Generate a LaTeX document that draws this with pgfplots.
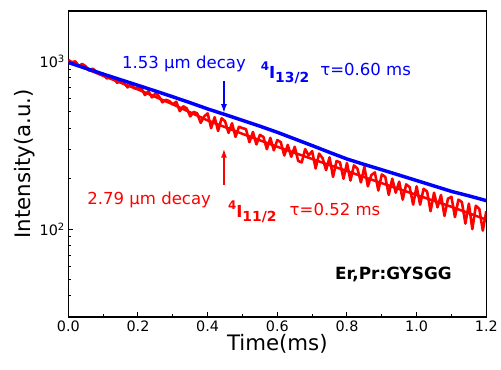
\documentclass[border=0pt]{standalone}
\usepackage{pgfplots}
\pgfplotsset{compat=1.18}
\usetikzlibrary{arrows.meta}
\usepackage{fontspec}
\setmainfont{DejaVu Sans}
\definecolor{myblue}{RGB}{0,0,255}
\definecolor{myred}{RGB}{255,0,0}
\begin{document}
\begin{tikzpicture}
\begin{axis}[
  width=422pt, height=309pt, scale only axis,
  xmin=0, xmax=1.2, ymin=30, ymax=2000, ymode=log,
  xtick={0,0.2,...,1.2}, minor x tick num=1,
  ytick={100,1000}, yticklabels={10\textsuperscript{2},10\textsuperscript{3}},
  minor ytick={40,50,60,70,80,90,200,300,400,500,600,700,800,900},
  xticklabel style={/pgf/number format/.cd, fixed, fixed zerofill, precision=1},
  /pgf/number format/assume math mode=true,
  tick align=inside, xtick pos=bottom, ytick pos=left,
  major tick length=5pt, minor tick length=3pt,
  axis line style={line width=1.5pt}, every tick/.style={line width=1pt, black},
  tick label style={font=\fontsize{14.5}{16}\selectfont},
  xlabel={Time(ms)}, ylabel={Intensity(a.u.)},
  label style={font=\fontsize{21.5}{24}\selectfont},
  xlabel style={yshift=4pt}, ylabel style={yshift=-2pt},
  clip=true,
]
\addplot[myred, line width=2.5pt] coordinates {
(0,1000)(0.1,820)(0.2,680)(0.3,555)(0.4,445)(0.5,370)(0.6,310)(0.7,262)(0.8,222)(0.9,188)(1.0,160)(1.1,136)(1.2,114)
};
\addplot[myred, line width=2.6pt, line join=round] coordinates {
(0.00,1020)(0.01,990)(0.02,1000)(0.03,940)(0.04,965)(0.05,935)(0.06,880)(0.07,905)(0.08,870)(0.09,850)
(0.10,845)(0.11,790)(0.12,815)(0.13,800)(0.14,745)(0.15,770)(0.16,745)(0.17,700)(0.18,735)(0.19,690)
(0.20,700)(0.21,690)(0.22,630)(0.23,665)(0.24,610)(0.25,645)(0.26,620)(0.27,570)(0.28,590)(0.29,580)
(0.30,555)(0.31,575)(0.32,505)(0.33,540)(0.34,525)(0.35,470)(0.36,500)(0.37,490)(0.38,430)(0.39,470)
(0.40,490)(0.41,400)(0.42,465)(0.43,385)(0.44,458)(0.45,440)(0.46,375)(0.47,428)(0.48,355)(0.49,408)
(0.50,400)(0.51,395)(0.52,330)(0.53,380)(0.54,320)(0.55,365)(0.56,355)(0.57,300)(0.58,350)(0.59,295)
(0.60,340)(0.61,330)(0.62,275)(0.63,318)(0.64,270)(0.65,310)(0.66,255)(0.67,250)(0.68,300)(0.69,275)
(0.70,292)(0.71,230)(0.72,282)(0.73,265)(0.74,225)(0.75,268)(0.76,205)(0.77,255)(0.78,250)(0.79,200)
(0.80,248)(0.81,195)(0.82,240)(0.83,230)(0.84,190)(0.85,235)(0.86,180)(0.87,210)(0.88,218)(0.89,170)
(0.90,212)(0.91,205)(0.92,160)(0.93,200)(0.94,165)(0.95,192)(0.96,150)(0.97,185)(0.98,178)(0.99,140)
(1.00,180)(1.01,140)(1.02,174)(1.03,168)(1.04,128)(1.05,165)(1.06,135)(1.07,160)(1.08,120)(1.09,152)
(1.10,156)(1.11,118)(1.12,150)(1.13,145)(1.14,108)(1.15,142)(1.16,100)(1.17,138)(1.18,132)(1.19,98)
(1.20,128)
};
\addplot[myblue, line width=3.5pt] coordinates {
(0,985)(0.05,910)(0.1,840)(0.15,778)(0.2,720)(0.25,666)(0.3,615)(0.35,567)(0.4,521)(0.45,482)
(0.5,445)(0.55,411)(0.6,378)(0.65,345)(0.7,315)(0.75,287)(0.8,262)(0.85,243)(0.9,226)(0.95,210)
(1.0,195)(1.05,181)(1.1,168)(1.15,158)(1.2,148)
};
% annotations
\node[anchor=base west, inner sep=0, text=myblue, font=\fontsize{16.7}{18}\selectfont] at (axis cs:0.154,906) {1.53 μm decay};
\node[anchor=base west, inner sep=0, text=myblue, font=\bfseries\fontsize{16.7}{18}\selectfont] at (axis cs:0.552,791) {\raisebox{8pt}{\fontsize{12}{12}\selectfont 4}I\raisebox{-4pt}{\fontsize{14}{14}\selectfont 13/2}};
\node[anchor=base west, inner sep=0, text=myblue, font=\fontsize{16.7}{18}\selectfont] at (axis cs:0.723,824) {τ=0.60 ms};
\node[anchor=base west, inner sep=0, text=myred, font=\fontsize{16.7}{18}\selectfont] at (axis cs:0.054,141) {2.79 μm decay};
\node[anchor=base west, inner sep=0, text=myred, font=\bfseries\fontsize{16.7}{18}\selectfont] at (axis cs:0.458,118) {\raisebox{8pt}{\fontsize{12}{12}\selectfont 4}I\raisebox{-4pt}{\fontsize{14}{14}\selectfont 11/2}};
\node[anchor=base west, inner sep=0, text=myred, font=\fontsize{16.7}{18}\selectfont] at (axis cs:0.635,120) {τ=0.52 ms};
\node[anchor=base west, inner sep=0, font=\bfseries\fontsize{17}{19}\selectfont] at (axis cs:0.7655,50.3) {Er,Pr:GYSGG};
\draw[myblue, line width=1.6pt, -{Latex[length=9pt,width=6pt]}] (axis cs:0.4468,769) -- (axis cs:0.4468,492);
\draw[myred, line width=1.6pt, -{Latex[length=9pt,width=6pt]}] (axis cs:0.4468,183) -- (axis cs:0.4468,302);
\end{axis}
\useasboundingbox ([shift={(-69pt,-53pt)}]current axis.south west) rectangle ([shift={(10pt,11pt)}]current axis.north east);
\end{tikzpicture}
\end{document}
